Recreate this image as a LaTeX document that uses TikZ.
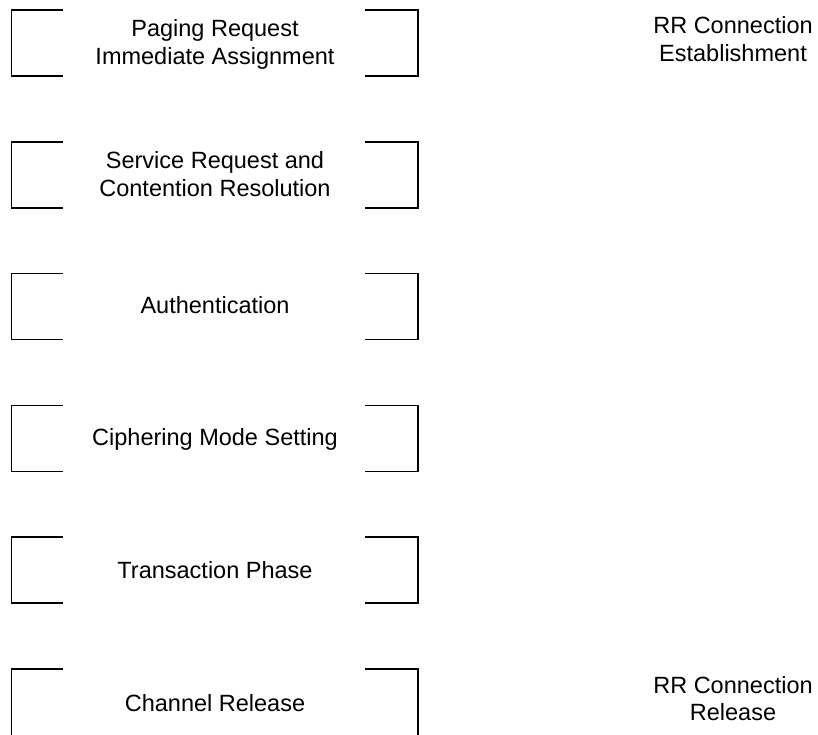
\documentclass[tikz,border=0pt]{standalone}
\usepackage{fontspec}
\setmainfont{Liberation Sans}

\tikzset{
  bracketline/.style={draw=black, line width=1.6pt},
  phase/.style={font=\fontsize{23.5}{28}\selectfont, anchor=base, inner sep=0pt},
}

\begin{document}
\begin{tikzpicture}[x=1pt, y=-1pt]
  \useasboundingbox (0,0) rectangle (818,735);

  % phase brackets: left and right half frames around each phase name
  \foreach \t/\closed in {10/1, 141.8/1, 273.6/1, 405.4/1, 537.2/1, 669/0} {
    \coordinate (lt) at (11.5,\t);
    \coordinate (rt) at (418,\t);
    \ifnum\closed=1
      \draw[bracketline] (63,\t) -- (lt) -- (11.5,\t+66) -- (63,\t+66);
      \draw[bracketline] (365,\t) -- (rt) -- (418,\t+66) -- (365,\t+66);
    \else
      \draw[bracketline] (63,\t) -- (lt) -- (11.5,737);
      \draw[bracketline] (365,\t) -- (rt) -- (418,737);
    \fi
  }

  % phase names
  \node[phase] (paging)    at (215,36.7)  {Paging Request};
  \node[phase] (immediate) at (215,65)    {Immediate Assignment};
  \node[phase] (service)   at (215,168.5) {Service Request and};
  \node[phase] (contention)at (215,196.8) {Contention Resolution};
  \node[phase] (auth)      at (215,313.6) {Authentication};
  \node[phase] (cipher)    at (215,445.6) {Ciphering Mode Setting};
  \node[phase] (trans)     at (215,578)   {Transaction Phase};
  \node[phase] (chanrel)   at (215,711)   {Channel Release};

  % RR connection annotations
  \node[phase] (rrest1) at (733,33.3)  {RR Connection};
  \node[phase] (rrest2) at (733,61.7)  {Establishment};
  \node[phase] (rrrel1) at (733,693.3) {RR Connection};
  \node[phase] (rrrel2) at (733,720.3) {Release};
\end{tikzpicture}
\end{document}
